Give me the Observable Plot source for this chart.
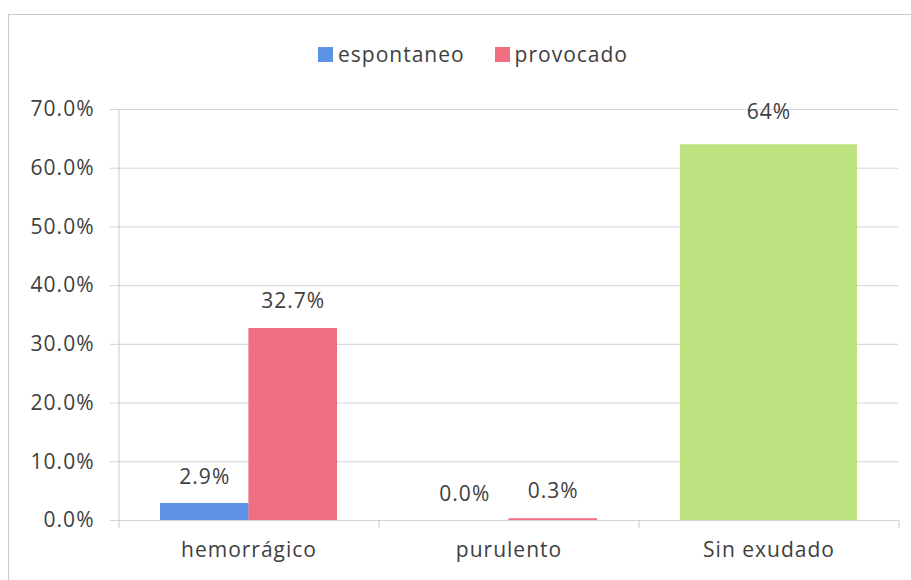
<!DOCTYPE html>
<html>
<head>
<meta charset="utf-8">
<script src="https://cdn.jsdelivr.net/npm/d3@7"></script>
<script src="https://cdn.jsdelivr.net/npm/@observablehq/plot@0.6"></script>
<style>
  html, body { margin: 0; padding: 0; background: #fff; }
  body { width: 911px; height: 580px; position: relative; overflow: hidden; font-family: "Open Sans", sans-serif; }
  #frame { position: absolute; left: 8px; top: 14px; width: 902px; height: 600px; border-left: 1px solid #c9c9c9; border-top: 1px solid #c9c9c9; }
  #legend { position: absolute; left: 0; top: 40px; width: 946px; display: flex; justify-content: center; align-items: center; gap: 30px; font-size: 21px; color: #404040; letter-spacing: 1px; }
  #legend .item { display: flex; align-items: center; gap: 5px; }
  #legend .sw { width: 15px; height: 15px; display: inline-block; }
  #chart { position: absolute; left: 0; top: 0; }
</style>
</head>
<body>
<div id="frame"></div>
<div id="legend"></div>
<div id="chart"></div>
<script>
// ---- data ----
const categories = ["hemorrágico", "purulento", "Sin exudado"];
const seriesNames = ["espontaneo", "provocado"];
const espontaneo = [0.029, 0.000];   // hemorrágico, purulento
const provocado  = [0.327, 0.003];   // hemorrágico, purulento
const sinExudado = 0.64;             // Sin exudado (single bar)
const yTicks = [0, 0.1, 0.2, 0.3, 0.4, 0.5, 0.6, 0.7];

// ---- styles ----
const colors = { espontaneo: "#5e92e6", provocado: "#ef6e80", total: "#c0e382" };
const gridColor = "#d3d3dc";
const textColor = "#404040";
const fontSize = 21;

const rows = [];
espontaneo.forEach((v, i) => rows.push({ category: categories[i], series: "espontaneo", value: v }));
provocado.forEach((v, i) => rows.push({ category: categories[i], series: "provocado", value: v }));
rows.push({ category: categories[2], series: "total", value: sinExudado });

const W = 911, H = 580, mL = 118, mR = 13, mT = 109, mB = 60;
const pInner = 0.32, pOuter = 0.16;
const step = (W - mL - mR) / (categories.length - pInner + 2 * pOuter);
const bw = step * (1 - pInner);

const fmt = d => d.series === "total" ? d3.format(".0%")(d.value) : d3.format(".1%")(d.value);
const esp = rows.filter(d => d.series === "espontaneo");
const pro = rows.filter(d => d.series === "provocado");
const tot = rows.filter(d => d.series === "total");

const chart = Plot.plot({
  width: W, height: H,
  marginLeft: mL, marginRight: mR, marginTop: mT, marginBottom: mB,
  style: { fontFamily: "Open Sans, sans-serif", fontSize: fontSize + "px", color: textColor, letterSpacing: "1px", background: "transparent" },
  x: { domain: categories, paddingInner: pInner, paddingOuter: pOuter, align: 0.5 },
  y: { domain: [0, 0.7] },
  marks: [
    Plot.gridY({ ticks: yTicks, stroke: gridColor, strokeOpacity: 1 }),
    Plot.axisY({ ticks: yTicks, tickFormat: d3.format(".1%"), tickSize: 8, tickPadding: 16, stroke: gridColor, fill: textColor, fontSize, label: null }),
    Plot.axisX({ tickSize: 0, tickPadding: 22, fill: textColor, fontSize, label: null }),
    Plot.ruleX([categories[0]], { x: d => d, dx: -step / 2, y1: 0.7, y2: 0, insetBottom: -8, stroke: "#c8c8d0" }),
    Plot.ruleX(categories, { x: d => d, dx: step / 2, y1: 0, y2: 0, insetBottom: -8, stroke: "#c8c8d0" }),
    Plot.barY(esp, { x: "category", y: "value", fill: colors.espontaneo, insetRight: bw / 2 }),
    Plot.barY(pro, { x: "category", y: "value", fill: colors.provocado, insetLeft: bw / 2 }),
    Plot.barY(tot, { x: "category", y: "value", fill: colors.total }),
    Plot.text(esp, { x: "category", y: "value", text: fmt, dx: -bw / 4, dy: -26, fill: textColor, fontSize }),
    Plot.text(pro, { x: "category", y: "value", text: fmt, dx: bw / 4, dy: -27, fill: textColor, fontSize }),
    Plot.text(tot, { x: "category", y: "value", text: fmt, dy: -32, fill: textColor, fontSize })
  ]
});
document.getElementById("chart").appendChild(chart);

const legend = document.getElementById("legend");
seriesNames.forEach(s => {
  const item = document.createElement("span");
  item.className = "item";
  const sw = document.createElement("span");
  sw.className = "sw";
  sw.style.background = colors[s];
  const lab = document.createElement("span");
  lab.textContent = s;
  item.appendChild(sw);
  item.appendChild(lab);
  legend.appendChild(item);
});
</script>
</body>
</html>
